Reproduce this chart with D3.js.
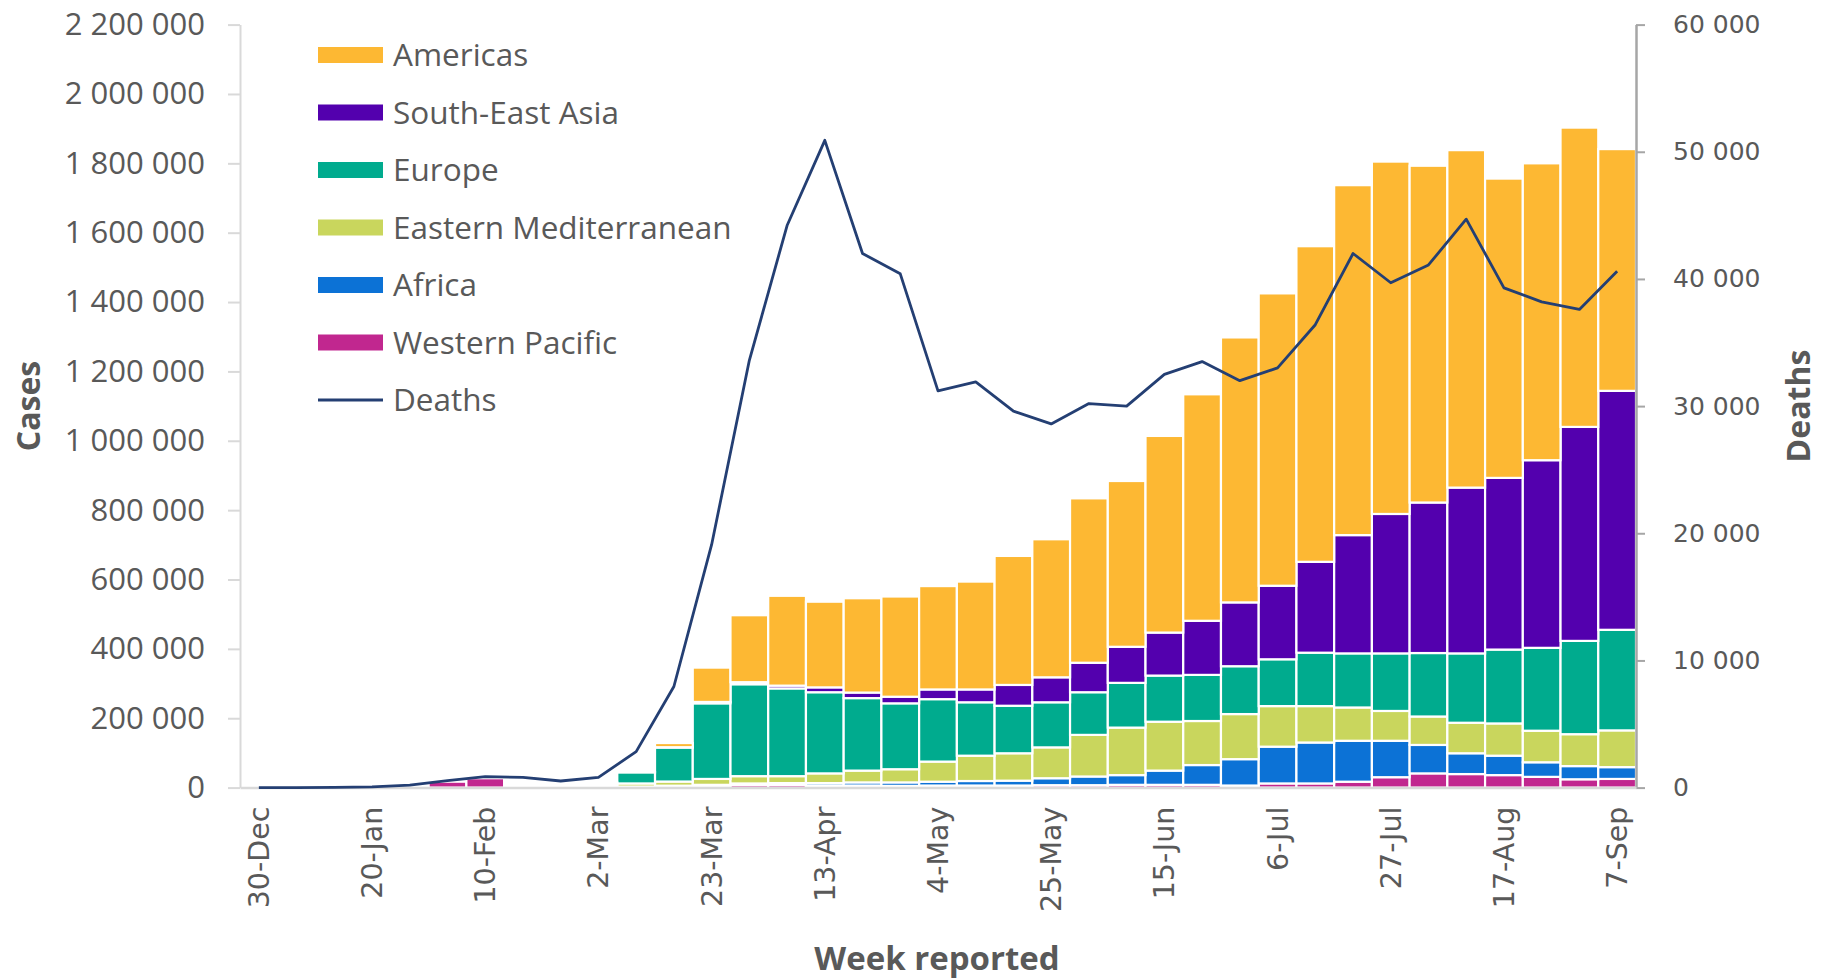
<!DOCTYPE html>
<html>
<head>
<meta charset="utf-8">
<script src="https://cdn.jsdelivr.net/npm/d3@7"></script>
<style>
  body { margin: 0; background: #fff; }
  svg { display: block; }
</style>
</head>
<body>
<div id="chart"></div>
<script>
const weeks = ["30-Dec","6-Jan","13-Jan","20-Jan","27-Jan","3-Feb","10-Feb","17-Feb","24-Feb","2-Mar","9-Mar","16-Mar",
  "23-Mar","30-Mar","6-Apr","13-Apr","20-Apr","27-Apr","4-May","11-May","18-May","25-May","1-Jun","8-Jun",
  "15-Jun","22-Jun","29-Jun","6-Jul","13-Jul","20-Jul","27-Jul","3-Aug","10-Aug","17-Aug","24-Aug","31-Aug","7-Sep"]

// weekly cases by WHO region
const westernPacific = [0,0,0,1000,3000,17000,27000,2000,1500,3000,3000,5000,
  6000,8000,8000,6000,6000,5000,6000,6000,6000,7000,7000,8000,
  8000,8000,6000,12000,12000,17000,30000,41000,39000,36000,31000,24000,25000]
const africa = [0,0,0,0,0,0,0,0,0,0,0,500,
  2000,4000,5000,7000,9000,10000,11000,13000,14000,20000,25000,28000,
  41000,57000,76000,106000,118000,118000,105000,82000,60000,56000,42000,38000,34000]
const easternMed = [0,0,0,0,0,0,0,0,1000,5000,9000,12000,
  17000,21000,20000,28000,34000,38000,58000,73000,79000,89000,120000,137000,
  141000,127000,130000,117000,105000,96000,86000,82000,88000,93000,91000,92000,106000]
const europe = [0,0,0,0,0,0,0,0,1000,6000,32000,98000,
  218000,265000,253000,234000,209000,190000,180000,154000,137000,130000,123000,129000,
  133000,133000,138000,135000,154000,156000,166000,183000,200000,213000,239000,269000,290000]
const southEastAsia = [0,0,0,0,0,0,0,0,0,0,0,1000,
  4000,6000,8000,14000,16000,19000,28000,37000,60000,72000,85000,104000,
  124000,156000,184000,212000,262000,341000,402000,434000,478000,495000,541000,617000,689000]
const americas = [0,0,0,0,0,0,0,0,0,500,1000,12000,
  99000,193000,259000,247000,272000,289000,298000,311000,372000,398000,474000,478000,
  567000,653000,764000,843000,910000,1009000,1016000,971000,973000,863000,856000,863000,697000]

// weekly deaths (right axis)
const deaths = [0,0,20,60,200,550,860,800,520,800,2830,7950,
  19100,33600,44200,50900,42000,40400,31200,31900,29600,28600,30200,30000,
  32500,33500,32000,33000,36400,42000,39700,41100,44700,39300,38200,37600,40600]

const casesTicks = d3.range(0, 2200001, 200000)
const deathsTicks = d3.range(0, 60001, 10000)

// stack order bottom -> top
const regions = [
  { key: "Western Pacific", values: westernPacific, color: "#C1278F" },
  { key: "Africa", values: africa, color: "#0C72D6" },
  { key: "Eastern Mediterranean", values: easternMed, color: "#C9D65D" },
  { key: "Europe", values: europe, color: "#00AB8E" },
  { key: "South-East Asia", values: southEastAsia, color: "#5300AE" },
  { key: "Americas", values: americas, color: "#FDB833" }
]
const DEATHS_COLOR = "#243F73"

const W = 1835, H = 979
const LEFT = 240, RIGHT = 1636, TOP = 24.6, BOTTOM = 787.6
const TEXT = "#595959"
const SANS = "'Open Sans', sans-serif"
const WIDE = "'DejaVu Sans', sans-serif"

const rows = weeks.map((w, i) => {
  const r = { week: w }
  regions.forEach(s => { r[s.key] = s.values[i] })
  return r
})

const fmt = d3.formatLocale({ decimal: ".", thousands: " ", grouping: [3], currency: ["", ""] }).format(",")

const svg = d3.select("#chart").append("svg")
  .attr("width", W)
  .attr("height", H)

const x = d3.scaleBand().domain(weeks).range([LEFT, RIGHT]).padding(0)
const y = d3.scaleLinear().domain([0, 2200000]).range([BOTTOM, TOP])
const yD = d3.scaleLinear().domain([0, 60000]).range([BOTTOM, TOP])

const stacked = d3.stack().keys(regions.map(s => s.key))(rows)

// bars
svg.append("g")
  .selectAll("g")
  .data(stacked)
  .join("g")
  .attr("fill", (d, i) => regions[i].color)
  .selectAll("rect")
  .data(d => d)
  .join("rect")
  .attr("x", d => x(d.data.week))
  .attr("width", x.bandwidth())
  .attr("y", d => y(d[1]))
  .attr("height", d => y(d[0]) - y(d[1]))
  .attr("stroke", "#fff")
  .attr("stroke-width", 2.2)

// left axis
const leftAxis = svg.append("g")
  .attr("transform", `translate(${LEFT},0)`)
  .call(d3.axisLeft(y).tickValues(casesTicks).tickFormat(fmt).tickSize(12).tickSizeOuter(0).tickPadding(23))
leftAxis.select(".domain").attr("stroke", "#D9D9D9").attr("stroke-width", 2)
leftAxis.selectAll(".tick line").attr("stroke", "#D9D9D9").attr("stroke-width", 2)
leftAxis.selectAll(".tick text")
  .attr("fill", TEXT)
  .style("font-family", SANS)
  .style("font-size", "31px")

// right axis
const rightAxis = svg.append("g")
  .attr("transform", `translate(${RIGHT},0)`)
  .call(d3.axisRight(yD).tickValues(deathsTicks).tickFormat(fmt).tickSize(9).tickSizeOuter(0).tickPadding(28))
rightAxis.select(".domain").attr("stroke", "#A6A6A6").attr("stroke-width", 2.5)
rightAxis.selectAll(".tick line").attr("stroke", "#A6A6A6").attr("stroke-width", 2)
rightAxis.selectAll(".tick text")
  .attr("fill", TEXT)
  .style("font-family", WIDE)
  .style("font-size", "25px")

// bottom axis
const bottomAxis = svg.append("g")
  .attr("transform", `translate(0,${BOTTOM})`)
  .call(d3.axisBottom(x).tickValues(weeks.filter((w, i) => i % 3 === 0)).tickSize(0).tickSizeOuter(0))
bottomAxis.select(".domain").attr("stroke", "#D9D9D9").attr("stroke-width", 2.5)
bottomAxis.selectAll(".tick text")
  .attr("fill", TEXT)
  .attr("transform", "rotate(-90)")
  .attr("x", -19)
  .attr("y", 0)
  .attr("dy", "0.35em")
  .attr("text-anchor", "end")
  .style("font-family", WIDE)
  .style("font-size", "28.5px")

// deaths line
svg.append("path")
  .datum(deaths)
  .attr("fill", "none")
  .attr("stroke", DEATHS_COLOR)
  .attr("stroke-width", 2.8)
  .attr("stroke-linejoin", "round")
  .attr("d", d3.line()
    .x((d, i) => x(weeks[i]) + x.bandwidth() / 2)
    .y(d => yD(d)))

// axis titles
svg.append("text")
  .attr("transform", "translate(40,406) rotate(-90)")
  .attr("text-anchor", "middle")
  .attr("fill", TEXT)
  .style("font-family", SANS)
  .style("font-weight", "bold")
  .style("font-size", "32px")
  .text("Cases")

svg.append("text")
  .attr("transform", "translate(1810,406) rotate(-90)")
  .attr("text-anchor", "middle")
  .attr("fill", TEXT)
  .style("font-family", SANS)
  .style("font-weight", "bold")
  .style("font-size", "32px")
  .text("Deaths")

svg.append("text")
  .attr("x", 937)
  .attr("y", 970)
  .attr("text-anchor", "middle")
  .attr("fill", TEXT)
  .style("font-family", SANS)
  .style("font-weight", "bold")
  .style("font-size", "33px")
  .text("Week reported")

// legend
const legendItems = regions.slice().reverse().map(s => ({ key: s.key, color: s.color, line: false }))
legendItems.push({ key: "Deaths", color: DEATHS_COLOR, line: true })

const legend = svg.append("g")
  .selectAll("g")
  .data(legendItems)
  .join("g")
  .attr("transform", (d, i) => `translate(318,${55 + i * 57.5})`)

legend.filter(d => !d.line).append("rect")
  .attr("x", 0)
  .attr("y", -8)
  .attr("width", 65)
  .attr("height", 16)
  .attr("fill", d => d.color)

legend.filter(d => d.line).append("line")
  .attr("x1", 0)
  .attr("x2", 65)
  .attr("stroke", d => d.color)
  .attr("stroke-width", 2.8)

legend.append("text")
  .attr("x", 75)
  .attr("dy", "0.35em")
  .attr("fill", TEXT)
  .style("font-family", SANS)
  .style("font-size", "31.5px")
  .text(d => d.key)
</script>
</body>
</html>
